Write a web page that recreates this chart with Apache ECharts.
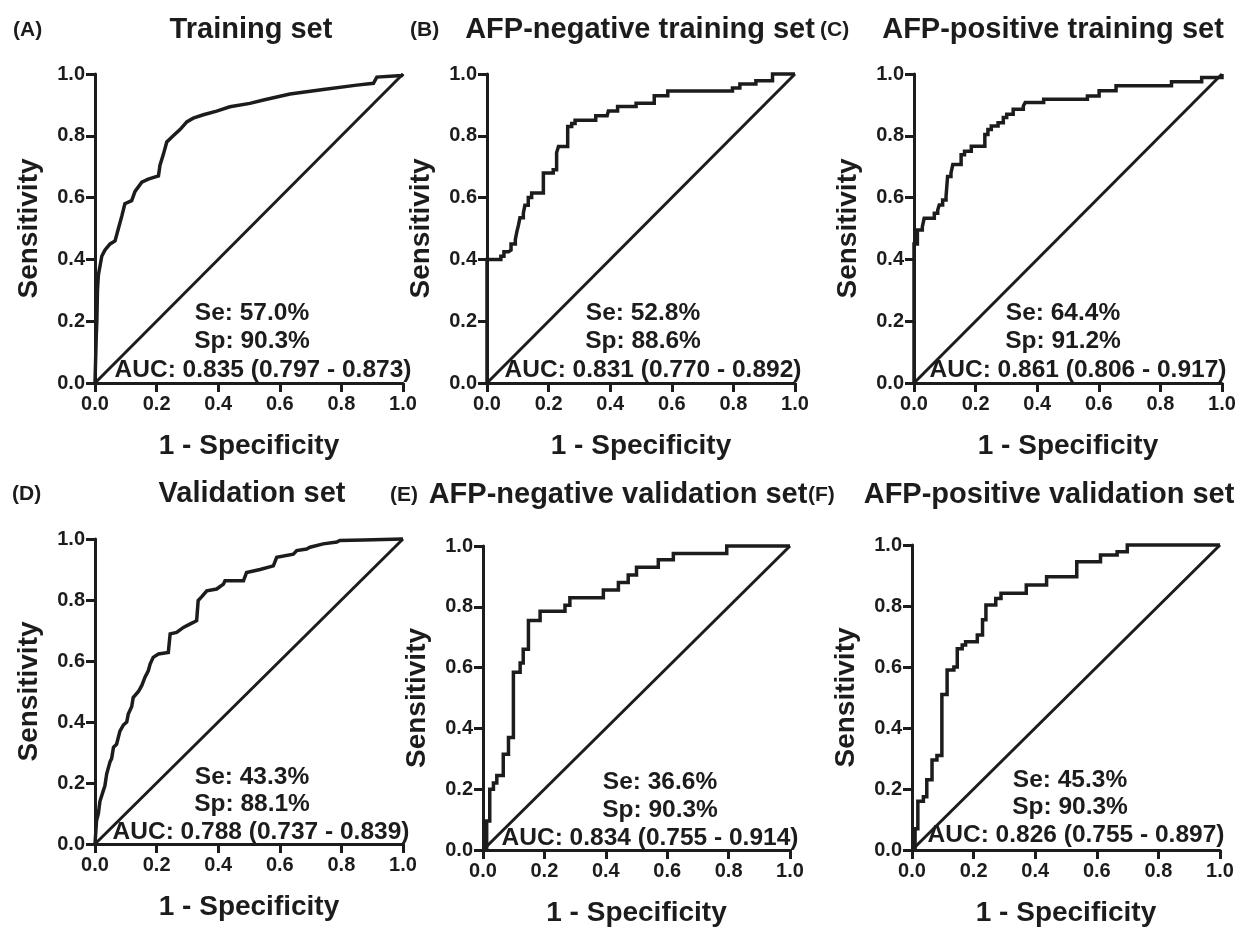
<!DOCTYPE html>
<html><head><meta charset="utf-8">
<script src="https://cdn.jsdelivr.net/npm/echarts@6/dist/echarts.min.js"></script>
<style>html,body{margin:0;padding:0;background:#fff}#c{width:1253px;height:928px}</style>
</head><body><div id="c"></div>
<script>
// ---------- DATA ----------
const panelLetters = ['(A)', '(B)', '(C)', '(D)', '(E)', '(F)'];
const panelTitles = ['Training set', 'AFP-negative training set', 'AFP-positive training set',
  'Validation set', 'AFP-negative validation set', 'AFP-positive validation set'];
const tickLabels = ['0.0', '0.2', '0.4', '0.6', '0.8', '1.0'];
const xAxisTitle = '1 - Specificity';
const yAxisTitle = 'Sensitivity';
const seVals = ['57.0%', '52.8%', '64.4%', '43.3%', '36.6%', '45.3%'];
const spVals = ['90.3%', '88.6%', '91.2%', '88.1%', '90.3%', '90.3%'];
const aucVals = ['0.835 (0.797 - 0.873)', '0.831 (0.770 - 0.892)', '0.861 (0.806 - 0.917)',
  '0.788 (0.737 - 0.839)', '0.834 (0.755 - 0.914)', '0.826 (0.755 - 0.897)'];
const diagonal = [[0, 0], [1, 1]];

// ROC curves: [1 - specificity, sensitivity]
const rocA = [[0,0],[0.004,0.15],[0.006,0.20],[0.008,0.30],[0.011,0.35],[0.022,0.41],[0.032,0.43],[0.049,0.45],
  [0.065,0.46],[0.076,0.50],[0.087,0.54],[0.097,0.58],[0.119,0.59],[0.130,0.62],[0.152,0.65],[0.173,0.66],
  [0.206,0.67],[0.211,0.705],[0.222,0.74],[0.233,0.78],[0.254,0.80],[0.276,0.82],[0.298,0.845],[0.319,0.857],
  [0.352,0.868],[0.395,0.88],[0.438,0.894],[0.503,0.905],[0.547,0.916],[0.633,0.935],[0.741,0.95],[0.850,0.964],
  [0.904,0.97],[0.915,0.99],[0.996,0.995],[1,1]];
const rocB = [[0,0],[0,0.40],[0.045,0.41],[0.055,0.425],[0.07,0.43],[0.078,0.45],[0.092,0.465],[0.097,0.49],
  [0.102,0.51],[0.107,0.535],[0.118,0.55],[0.123,0.575],[0.134,0.60],[0.145,0.615],[0.183,0.68],[0.215,0.69],
  [0.226,0.745],[0.232,0.765],[0.262,0.83],[0.275,0.84],[0.286,0.85],[0.353,0.865],[0.39,0.87],[0.394,0.88],
  [0.424,0.895],[0.484,0.905],[0.543,0.93],[0.587,0.945],[0.797,0.955],[0.821,0.968],[0.873,0.978],
  [0.927,1.0],[1.0,1.0]];
const rocC = [[0,0],[0,0.45],[0.011,0.495],[0.027,0.505],[0.033,0.533],[0.066,0.549],[0.077,0.56],[0.082,0.576],
  [0.093,0.592],[0.104,0.603],[0.109,0.668],[0.120,0.679],[0.126,0.707],[0.153,0.739],[0.164,0.75],[0.186,0.766],
  [0.230,0.804],[0.240,0.82],[0.251,0.832],[0.273,0.842],[0.290,0.859],[0.301,0.87],[0.322,0.886],[0.355,0.897],
  [0.361,0.908],[0.421,0.918],[0.563,0.929],[0.601,0.946],[0.656,0.962],[0.836,0.975],[0.934,0.989],[1.0,1.0]];
const rocD = [[0,0],[0.005,0.077],[0.011,0.10],[0.016,0.14],[0.027,0.175],[0.032,0.19],[0.038,0.23],[0.049,0.27],
  [0.054,0.28],[0.06,0.317],[0.07,0.327],[0.081,0.37],[0.092,0.39],[0.103,0.40],[0.108,0.426],[0.119,0.45],
  [0.124,0.48],[0.141,0.50],[0.152,0.52],[0.162,0.546],[0.173,0.568],[0.179,0.59],[0.189,0.612],[0.206,0.623],
  [0.238,0.628],[0.244,0.689],[0.265,0.694],[0.287,0.71],[0.308,0.721],[0.33,0.732],[0.335,0.798],[0.346,0.81],
  [0.363,0.83],[0.395,0.836],[0.417,0.852],[0.422,0.863],[0.482,0.863],[0.492,0.89],[0.536,0.90],[0.579,0.912],
  [0.59,0.94],[0.644,0.95],[0.655,0.962],[0.687,0.967],[0.698,0.973],[0.741,0.984],[0.785,0.99],[0.795,0.995],
  [0.871,0.997],[1,1]];
const rocE = [[0,0],[0.012,0.095],[0.022,0.2],[0.034,0.22],[0.045,0.245],[0.066,0.315],[0.083,0.37],[0.099,0.585],
  [0.121,0.615],[0.131,0.66],[0.148,0.755],[0.186,0.785],[0.267,0.805],[0.283,0.83],[0.392,0.855],[0.441,0.88],
  [0.473,0.905],[0.5,0.93],[0.571,0.955],[0.62,0.975],[0.794,1.0],[1.0,1.0]];
const rocF = [[0,0],[0.01,0.07],[0.019,0.16],[0.037,0.175],[0.048,0.23],[0.065,0.295],[0.081,0.31],[0.097,0.51],
  [0.114,0.59],[0.136,0.60],[0.147,0.66],[0.163,0.672],[0.174,0.683],[0.212,0.705],[0.229,0.755],[0.24,0.803],
  [0.272,0.825],[0.289,0.842],[0.371,0.869],[0.437,0.896],[0.535,0.945],[0.612,0.967],[0.666,0.978],[0.699,1.0],[1,1]];
const rocCurves = [rocA, rocB, rocC, rocD, rocE, rocF];
const stepped = [false, 'end', 'end', false, 'end', 'end'];

// ---------- LAYOUT ----------
const FONT = '"Liberation Sans", Arial, Helvetica, sans-serif';
const INK = '#1c1c1c';
const grids = [
  {left: 95, top: 74, width: 308, height: 309},
  {left: 487, top: 74, width: 308, height: 309},
  {left: 914, top: 74, width: 308, height: 309},
  {left: 95, top: 539, width: 308, height: 305},
  {left: 483, top: 546, width: 307, height: 306},
  {left: 912, top: 545, width: 308, height: 305}
];
const titlePos = [
  {lx: 13, tx: 251, y: 30}, {lx: 410, tx: 640, y: 30}, {lx: 820, tx: 1053, y: 30},
  {lx: 12, tx: 252, y: 494}, {lx: 390, tx: 618, y: 495}, {lx: 808, tx: 1049, y: 495}
];
const annPos = [
  {sx: 252, ax: 263, y: 313, dy: 28.5}, {sx: 643, ax: 653, y: 313, dy: 28.5}, {sx: 1063, ax: 1078, y: 313, dy: 28.5},
  {sx: 252, ax: 261, y: 777, dy: 27.5}, {sx: 660, ax: 650, y: 782, dy: 28}, {sx: 1070, ax: 1076, y: 780, dy: 27.5}
];

const chart = echarts.init(document.getElementById('c'), null, {renderer: 'canvas'});
const xAxes = [], yAxes = [], series = [], graphics = [];
const axisCommon = {
  type: 'value', min: 0, max: 1, interval: 0.2,
  axisLine: {show: true, lineStyle: {color: INK, width: 3}},
  axisTick: {show: true, length: 9, lineStyle: {color: INK, width: 3}},
  splitLine: {show: false},
  nameLocation: 'middle',
  nameTextStyle: {fontFamily: FONT, fontWeight: 'bold', fontSize: 28, color: INK}
};
const labelFmt = v => tickLabels[Math.round(v / 0.2)];
grids.forEach((g, i) => {
  xAxes.push(Object.assign({}, axisCommon, {
    gridIndex: i, name: xAxisTitle, nameGap: 49,
    axisLabel: {margin: 11, formatter: labelFmt, fontFamily: FONT, fontWeight: 'bold', fontSize: 20, color: INK}
  }));
  yAxes.push(Object.assign({}, axisCommon, {
    gridIndex: i, name: yAxisTitle, nameGap: 52,
    axisLabel: {margin: 10, formatter: labelFmt, fontFamily: FONT, fontWeight: 'bold', fontSize: 20, color: INK}
  }));
  series.push({
    type: 'line', xAxisIndex: i, yAxisIndex: i, data: diagonal, showSymbol: false, clip: false,
    lineStyle: {color: INK, width: 3}, silent: true, z: 3
  });
  series.push({
    type: 'line', xAxisIndex: i, yAxisIndex: i, data: rocCurves[i], showSymbol: false, clip: false,
    step: stepped[i], lineStyle: {color: INK, width: 3.5, join: 'miter'}, silent: true, z: 4
  });
  const t = titlePos[i];
  graphics.push({type: 'text', x: t.lx, y: t.y,
    style: {text: panelLetters[i], font: 'bold 21px ' + FONT, fill: INK, textVerticalAlign: 'middle'}});
  graphics.push({type: 'text', x: t.tx, y: t.y,
    style: {text: panelTitles[i], font: 'bold 29px ' + FONT, fill: INK, textAlign: 'center', textVerticalAlign: 'middle'}});
  const a = annPos[i];
  graphics.push({type: 'text', x: a.sx, y: a.y, z: 10,
    style: {text: 'Se: ' + seVals[i], font: 'bold 24.5px ' + FONT, fill: INK, textAlign: 'center', textVerticalAlign: 'middle'}});
  graphics.push({type: 'text', x: a.sx, y: a.y + a.dy, z: 10,
    style: {text: 'Sp: ' + spVals[i], font: 'bold 24.5px ' + FONT, fill: INK, textAlign: 'center', textVerticalAlign: 'middle'}});
  graphics.push({type: 'text', x: a.ax, y: a.y + 2 * a.dy, z: 10,
    style: {text: 'AUC: ' + aucVals[i], font: 'bold 24.5px ' + FONT, fill: INK, textAlign: 'center', textVerticalAlign: 'middle'}});
});

chart.setOption({
  animation: false,
  backgroundColor: '#ffffff',
  grid: grids.map(g => Object.assign({containLabel: false}, g)),
  xAxis: xAxes,
  yAxis: yAxes,
  series: series,
  graphic: graphics
});
</script></body></html>
